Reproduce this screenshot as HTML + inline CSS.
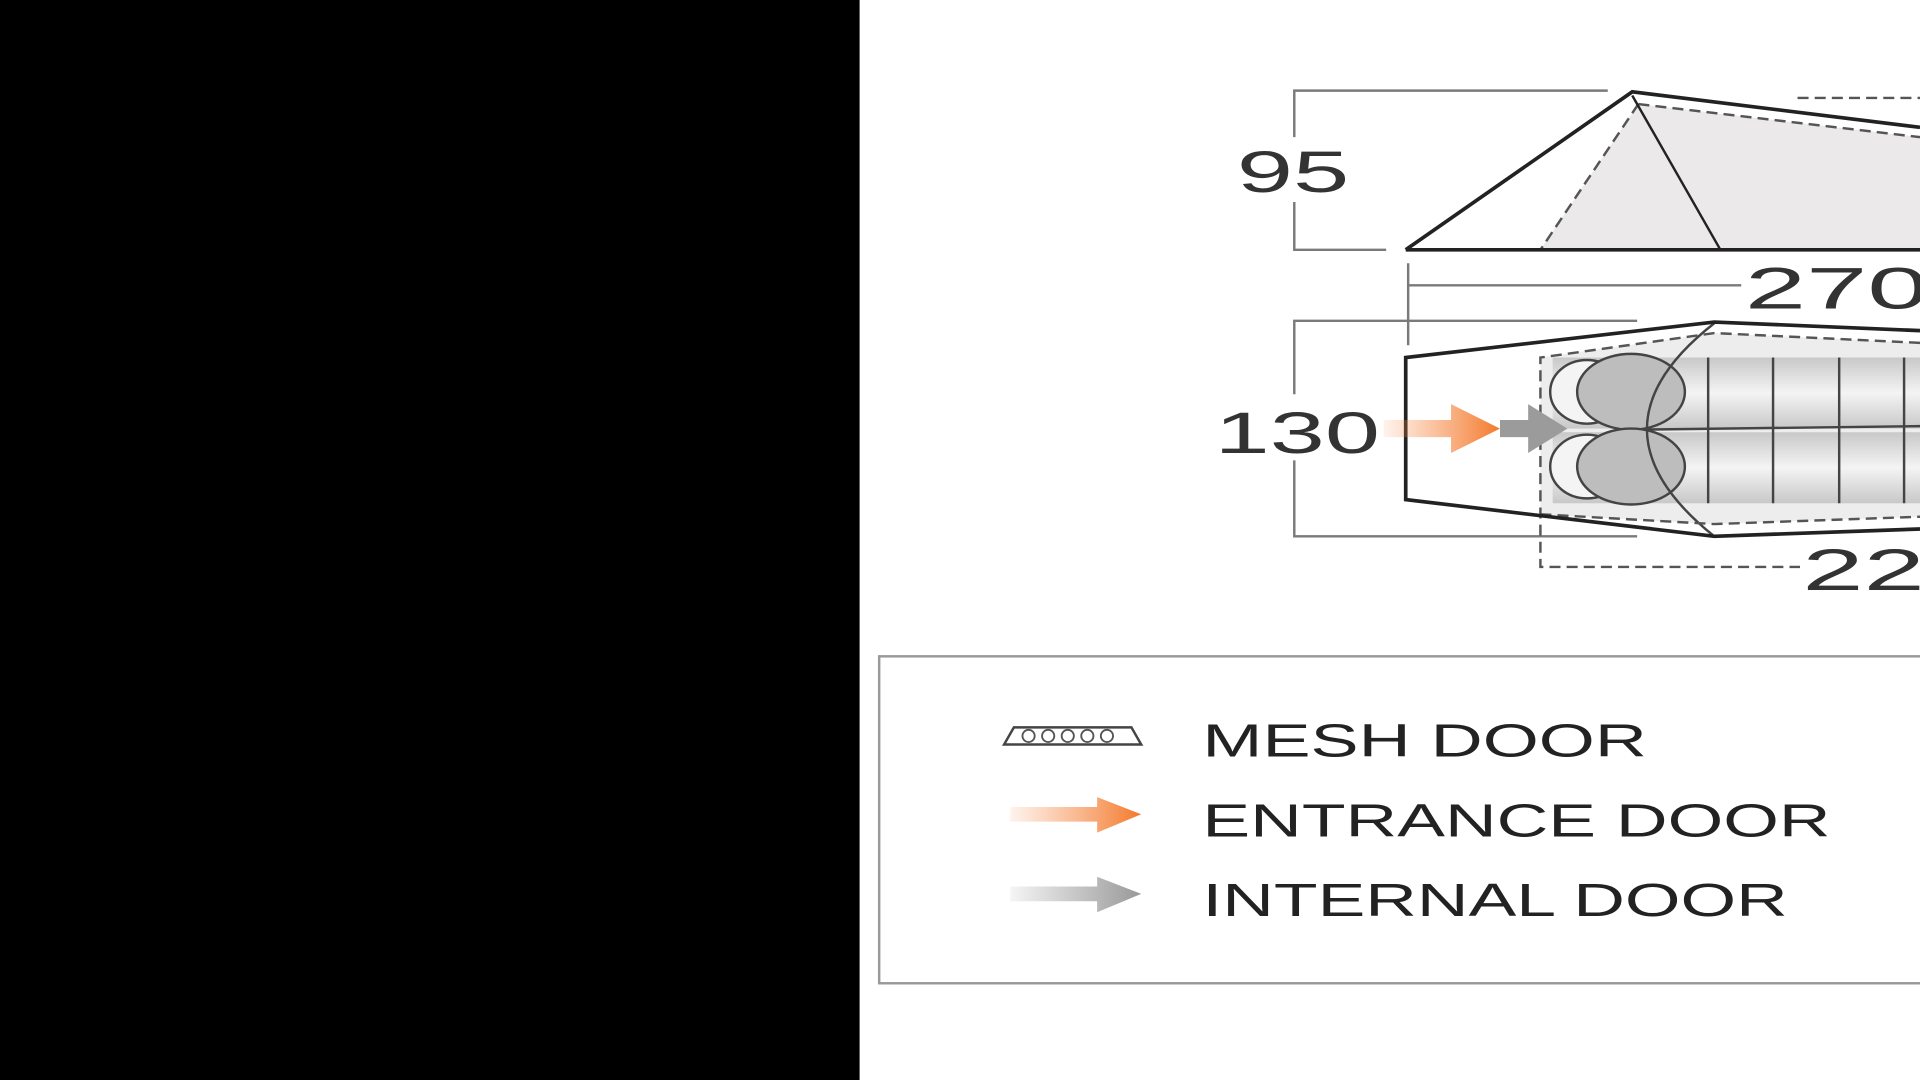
<!DOCTYPE html>
<html><head><meta charset="utf-8"><style>html,body{margin:0;padding:0;background:#fff;overflow:hidden}svg{display:block}</style></head>
<body>
<svg width="1920" height="1080" viewBox="0 0 1568 882" preserveAspectRatio="none" xmlns="http://www.w3.org/2000/svg" font-family="Liberation Sans, sans-serif">
<defs>
<linearGradient id="og" x1="0" x2="1"><stop offset="0" stop-color="#f58a4a" stop-opacity="0.1"/><stop offset="1" stop-color="#f47a2c"/></linearGradient>
<linearGradient id="gg" x1="0" x2="1"><stop offset="0" stop-color="#999" stop-opacity="0.1"/><stop offset="1" stop-color="#999"/></linearGradient>
<linearGradient id="mat" x1="0" y1="0" x2="0" y2="1"><stop offset="0" stop-color="#c8c8c8"/><stop offset="0.5" stop-color="#f4f4f4"/><stop offset="1" stop-color="#c8c8c8"/></linearGradient>
</defs>
<rect width="1568" height="882" fill="#fff"/>
<rect x="0" y="0" width="702" height="882" fill="#000"/>

<!-- side view bracket -->
<g stroke="#7a7a7a" stroke-width="2" fill="none">
<polyline points="1313,74 1057,74 1057,112"/>
<polyline points="1057,165 1057,204 1132,204"/>
<line x1="1150" y1="215" x2="1150" y2="282"/>
<line x1="1150" y1="233" x2="1422" y2="233"/>
<polyline points="1337,262 1057,262 1057,322"/>
<polyline points="1057,376 1057,438 1337,438"/>
</g>
<text x="1010" y="157" font-size="48" fill="#333" textLength="92" lengthAdjust="spacingAndGlyphs">95</text>
<text x="1425" y="252" font-size="48" fill="#333" textLength="150" lengthAdjust="spacingAndGlyphs">270</text>
<text x="992" y="370" font-size="48" fill="#333" textLength="135" lengthAdjust="spacingAndGlyphs">130</text>
<text x="1472" y="482" font-size="48" fill="#333" textLength="150" lengthAdjust="spacingAndGlyphs">220</text>

<!-- tent side -->
<polygon points="1338,85 1568,112 1568,204 1258,204" fill="#ebe9e9"/>
<g stroke="#555" stroke-width="2" fill="none" stroke-dasharray="9,5">
<line x1="1338" y1="85" x2="1258" y2="204"/>
<line x1="1338" y1="85" x2="1568" y2="112"/>
<line x1="1468" y1="80" x2="1568" y2="80"/>
</g>
<g stroke="#222" stroke-width="3" fill="none">
<polyline points="1148,204 1333,75 1568,104"/>
<line x1="1148" y1="204" x2="1568" y2="204"/>
<line x1="1333" y1="78" x2="1405" y2="204" stroke-width="2"/>
</g>

<!-- floor plan -->
<polygon points="1148,292 1400,263 1568,270 1568,432 1400,438 1148,408" fill="#fff"/>
<polygon points="1258,292 1400,272 1568,280 1568,422 1400,428 1258,420" fill="#eeeded"/>
<rect x="1268" y="292" width="300" height="58" fill="url(#mat)"/>
<rect x="1268" y="353" width="300" height="58" fill="url(#mat)"/>
<g stroke="#444" stroke-width="2">
<line x1="1395" y1="292" x2="1395" y2="411"/><line x1="1448" y1="292" x2="1448" y2="411"/>
<line x1="1502" y1="292" x2="1502" y2="411"/><line x1="1555" y1="292" x2="1555" y2="411"/>
<line x1="1330" y1="351" x2="1568" y2="348"/>
</g>
<g stroke="#444" stroke-width="2">
<ellipse cx="1296" cy="320" rx="30" ry="26" fill="#f4f4f4"/>
<ellipse cx="1296" cy="381" rx="30" ry="26" fill="#f4f4f4"/>
<ellipse cx="1332" cy="320" rx="44" ry="31" fill="#bdbdbd"/>
<ellipse cx="1332" cy="381" rx="44" ry="31" fill="#bdbdbd"/>
<path d="M1400,264 Q1290,350 1400,438" fill="none"/>
</g>
<g stroke="#555" stroke-width="2" fill="none" stroke-dasharray="9,5">
<polyline points="1568,280 1400,272 1258,292 1258,463 1470,463"/>
<polyline points="1258,420 1400,428 1568,422"/>
</g>
<g stroke="#222" stroke-width="3" fill="none">
<polyline points="1568,270 1400,263 1148,292 1148,408 1400,438 1568,432"/>
</g>
<polygon points="1130,343 1185,343 1185,330 1225,350 1185,370 1185,357 1130,357" fill="url(#og)"/>
<polygon points="1225,343 1248,343 1248,330 1280,350 1248,370 1248,357 1225,357" fill="#9b9b9b"/>

<!-- legend -->
<rect x="718" y="536" width="870" height="267" fill="none" stroke="#999" stroke-width="2"/>
<polygon points="820,608 932,608 924,594 828,594" fill="#fff" stroke="#444" stroke-width="2"/>
<g stroke="#555" stroke-width="1.5" fill="none">
<circle cx="840" cy="601" r="5"/><circle cx="856" cy="601" r="5"/><circle cx="872" cy="601" r="5"/><circle cx="888" cy="601" r="5"/><circle cx="904" cy="601" r="5"/>
</g>
<polygon points="825,659 896,659 896,651 932,665 896,680 896,671 825,671" fill="url(#og)"/>
<polygon points="825,724 896,724 896,716 932,730 896,745 896,736 825,736" fill="url(#gg)"/>
<text x="982" y="618" font-size="38" fill="#222" textLength="363" lengthAdjust="spacingAndGlyphs">MESH DOOR</text>
<text x="982" y="683" font-size="38" fill="#222" textLength="513" lengthAdjust="spacingAndGlyphs">ENTRANCE DOOR</text>
<text x="982" y="748" font-size="38" fill="#222" textLength="478" lengthAdjust="spacingAndGlyphs">INTERNAL DOOR</text>
</svg>
</body></html>
